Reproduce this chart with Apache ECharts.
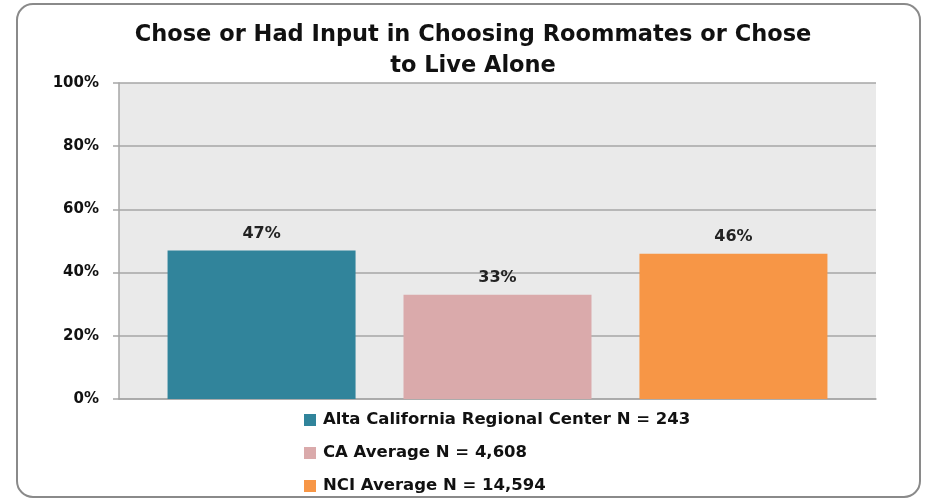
<!DOCTYPE html>
<html>
<head>
<meta charset="utf-8">
<script src="https://cdn.jsdelivr.net/npm/echarts@6/dist/echarts.min.js"></script>
<style>
  html, body { margin: 0; padding: 0; background: #fff; }
  #chart { width: 926px; height: 499px; }
</style>
</head>
<body>
<div id="chart"></div>
<script>
var seriesNames = ['Alta California Regional Center N = 243', 'CA Average N = 4,608', 'NCI Average N = 14,594'];
var seriesValues = [47, 33, 46];
var seriesColors = ['#31849B', '#DAAAAB', '#F79646'];
var categories = [''];

var myChart = echarts.init(document.getElementById('chart'));

var series = [];
for (var i = 0; i < seriesNames.length; i++) {
    series.push({
        name: seriesNames[i],
        type: 'bar',
        data: [seriesValues[i]],
        barWidth: 188,
        barGap: '25.5%',
        itemStyle: { color: seriesColors[i] },
        label: {
            show: true,
            position: 'top',
            distance: 9,
            formatter: '{c}%',
            color: '#222',
            fontFamily: 'DejaVu Sans',
            fontWeight: 'bold',
            fontSize: 16
        }
    });
}

var option = {
    animation: false,
    title: {
        text: 'Chose or Had Input in Choosing Roommates or Chose\nto Live Alone',
        left: 468,
        textAlign: 'center',
        top: 14,
        textStyle: {
            fontFamily: 'DejaVu Sans',
            fontWeight: 'bold',
            fontSize: 22.5,
            lineHeight: 31.5,
            color: '#111'
        }
    },
    graphic: [{
        type: 'rect',
        shape: { x: 17, y: 4, width: 903, height: 493, r: 16 },
        style: { fill: 'none', stroke: '#8a8a8a', lineWidth: 2 },
        z: -1
    }],
    legend: {
        orient: 'vertical',
        left: 304,
        top: 410,
        height: 95,
        padding: 0,
        itemWidth: 12,
        itemHeight: 12,
        itemGap: 13,
        icon: 'rect',
        textStyle: {
            fontFamily: 'DejaVu Sans',
            fontWeight: 'bold',
            fontSize: 16.5,
            lineHeight: 20,
            color: '#111',
            padding: [0, 0, 0, 2]
        },
        data: seriesNames
    },
    grid: {
        left: 119,
        right: 50,
        top: 83,
        bottom: 100,
        show: true,
        backgroundColor: '#EAEAEA',
        borderWidth: 0
    },
    xAxis: {
        type: 'category',
        data: categories,
        axisLine: { show: true, lineStyle: { color: '#A6A6A6', width: 1.5 } },
        axisTick: { show: false },
        axisLabel: { show: false }
    },
    yAxis: {
        type: 'value',
        min: 0,
        max: 100,
        interval: 20,
        axisLine: { show: true, lineStyle: { color: '#A6A6A6', width: 1.5 } },
        axisTick: { show: true, length: 6, lineStyle: { color: '#A6A6A6', width: 1.5 } },
        axisLabel: {
            formatter: '{value}%',
            margin: 20,
            fontFamily: 'DejaVu Sans',
            fontWeight: 'bold',
            fontSize: 15,
            color: '#111'
        },
        splitLine: { show: true, lineStyle: { color: '#A6A6A6', width: 1.5 } }
    },
    series: series
};

myChart.setOption(option);
</script>
</body>
</html>
